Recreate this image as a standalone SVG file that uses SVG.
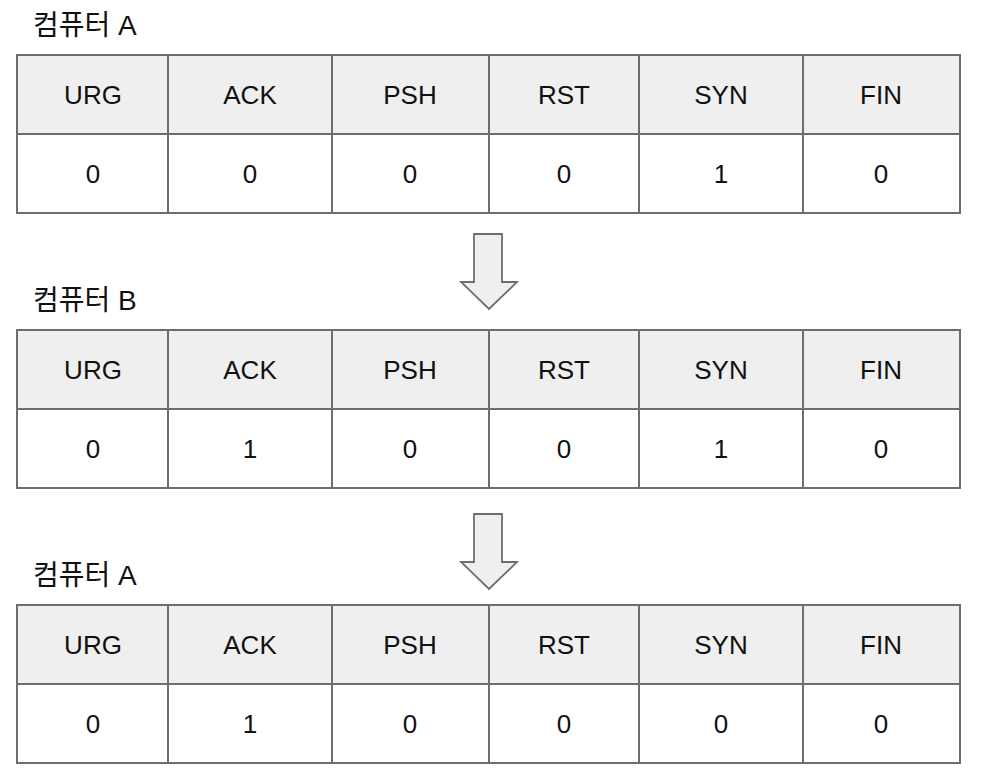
<svg xmlns="http://www.w3.org/2000/svg" width="984" height="775" viewBox="0 0 984 775">
<style>
.hd{fill:#efefef;stroke:#6e6e6e;stroke-width:2}
.vl{fill:#ffffff;stroke:#6e6e6e;stroke-width:2}
.t{font-family:"Liberation Sans","Noto Sans CJK KR",Arial,sans-serif;font-size:26px;fill:#111;text-anchor:middle}
.lb{font-family:"Liberation Sans","Noto Sans CJK KR",Arial,sans-serif;font-size:28px;fill:#111}
.ar{fill:#efefef;stroke:#6e6e6e;stroke-width:1.8;stroke-linejoin:miter}
</style>
<rect width="984" height="775" fill="#ffffff"/>
<defs>
<g id="hdr">
<rect class="hd" x="17" y="0" width="151" height="79"/>
<rect class="hd" x="168" y="0" width="164" height="79"/>
<rect class="hd" x="332" y="0" width="157" height="79"/>
<rect class="hd" x="489" y="0" width="150" height="79"/>
<rect class="hd" x="639" y="0" width="164" height="79"/>
<rect class="hd" x="803" y="0" width="157" height="79"/>
<rect class="vl" x="17" y="79" width="151" height="79"/>
<rect class="vl" x="168" y="79" width="164" height="79"/>
<rect class="vl" x="332" y="79" width="157" height="79"/>
<rect class="vl" x="489" y="79" width="150" height="79"/>
<rect class="vl" x="639" y="79" width="164" height="79"/>
<rect class="vl" x="803" y="79" width="157" height="79"/>
<text class="t" x="93" y="49">URG</text>
<text class="t" x="250" y="49">ACK</text>
<text class="t" x="410" y="49">PSH</text>
<text class="t" x="564" y="49">RST</text>
<text class="t" x="721" y="49">SYN</text>
<text class="t" x="881" y="49">FIN</text>
</g>
</defs>
<g id="table1">
<text class="lb" x="33" y="35">컴퓨터 A</text>
<use href="#hdr" y="55"/>
<text class="t" x="93" y="183">0</text>
<text class="t" x="250" y="183">0</text>
<text class="t" x="410" y="183">0</text>
<text class="t" x="564" y="183">0</text>
<text class="t" x="721" y="183">1</text>
<text class="t" x="881" y="183">0</text>
</g>
<g id="table2">
<text class="lb" x="33" y="310">컴퓨터 B</text>
<use href="#hdr" y="330"/>
<text class="t" x="93" y="458">0</text>
<text class="t" x="250" y="458">1</text>
<text class="t" x="410" y="458">0</text>
<text class="t" x="564" y="458">0</text>
<text class="t" x="721" y="458">1</text>
<text class="t" x="881" y="458">0</text>
</g>
<g id="table3">
<text class="lb" x="33" y="585">컴퓨터 A</text>
<use href="#hdr" y="605"/>
<text class="t" x="93" y="733">0</text>
<text class="t" x="250" y="733">1</text>
<text class="t" x="410" y="733">0</text>
<text class="t" x="564" y="733">0</text>
<text class="t" x="721" y="733">0</text>
<text class="t" x="881" y="733">0</text>
</g>
<g id="connectors">
<path class="ar" d="M474,234 L502,234 L502,282 L517,282 L489,309 L461,282 L474,282 Z"/>
<path class="ar" d="M474,514 L502,514 L502,562 L517,562 L489,589 L461,562 L474,562 Z"/>
</g>
</svg>
